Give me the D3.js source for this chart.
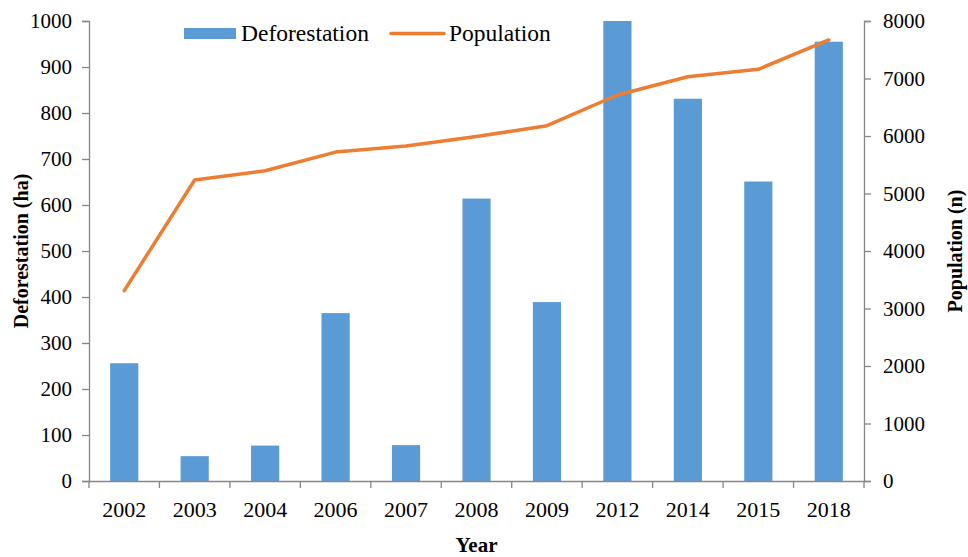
<!DOCTYPE html>
<html>
<head>
<meta charset="utf-8">
<script src="https://cdn.jsdelivr.net/npm/d3@7"></script>
<style>
  body { margin: 0; background: #fff; }
</style>
</head>
<body>
<svg id="chart"></svg>
<script>
// values
const years = ["2002", "2003", "2004", "2006", "2007", "2008", "2009", "2012", "2014", "2015", "2018"];
const deforestation = [256, 54, 77, 365, 78, 614, 389, 1000, 831, 651, 955];
const population = [3310, 5235, 5395, 5720, 5826, 5990, 6180, 6713, 7030, 7160, 7670];
const leftTicks = [0, 100, 200, 300, 400, 500, 600, 700, 800, 900, 1000];
const rightTicks = [0, 1000, 2000, 3000, 4000, 5000, 6000, 7000, 8000];

const width = 968, height = 557;
const margin = { top: 21, right: 104, bottom: 76, left: 89 };
const innerW = width - margin.left - margin.right;
const innerH = height - margin.top - margin.bottom;
const serif = "Liberation Serif";

const svg = d3.select("#chart")
    .attr("width", width).attr("height", height)
    .attr("font-family", serif);
const g = svg.append("g").attr("transform", `translate(${margin.left},${margin.top})`);

const x = d3.scaleBand().domain(years).range([0, innerW]).paddingInner(0.6).paddingOuter(0.3);
const xPoint = d3.scaleBand().domain(years).range([0, innerW]);
const yLeft = d3.scaleLinear().domain([0, 1000]).range([innerH, 0]);
const yRight = d3.scaleLinear().domain([0, 8000]).range([innerH, 0]);

const axisColor = "#868686";

// bars
g.selectAll("rect.bar")
    .data(years)
    .join("rect")
    .attr("class", "bar")
    .attr("x", d => x(d))
    .attr("width", x.bandwidth())
    .attr("y", (d, i) => yLeft(deforestation[i]))
    .attr("height", (d, i) => innerH - yLeft(deforestation[i]))
    .attr("fill", "#5B9BD5");

// line
const line = d3.line()
    .x((d, i) => xPoint(years[i]) + xPoint.bandwidth() / 2)
    .y(d => yRight(d));

g.append("path")
    .datum(population)
    .attr("d", line)
    .attr("fill", "none")
    .attr("stroke", "#ED7D31")
    .attr("stroke-width", 3.5)
    .attr("stroke-linejoin", "round")
    .attr("stroke-linecap", "round");

// axes
const styleAxis = (sel, size) => {
    sel.attr("font-family", serif).attr("font-size", size);
    sel.select(".domain").attr("stroke", axisColor).attr("stroke-width", 1.3);
    sel.selectAll(".tick line").attr("stroke", axisColor).attr("stroke-width", 1.3);
    sel.selectAll("text")
        .attr("font-family", serif)
        .attr("fill", "#000");
};

const xAxis = g.append("g")
    .attr("transform", `translate(0,${innerH})`)
    .call(d3.axisBottom(xPoint).tickSize(0).tickPadding(20));
styleAxis(xAxis, 22);

// category boundary ticks
const bounds = years.map(d => xPoint(d)).concat([innerW]);
xAxis.selectAll("line.bound")
    .data(bounds)
    .join("line")
    .attr("class", "bound")
    .attr("x1", d => d).attr("x2", d => d)
    .attr("y1", 0).attr("y2", 7)
    .attr("stroke", axisColor)
    .attr("stroke-width", 1.3);

const yAxisL = g.append("g")
    .call(d3.axisLeft(yLeft).tickValues(leftTicks).tickFormat(d3.format("d"))
        .tickSize(7).tickSizeOuter(7).tickPadding(10));
styleAxis(yAxisL, 21);

const yAxisR = g.append("g")
    .attr("transform", `translate(${innerW},0)`)
    .call(d3.axisRight(yRight).tickValues(rightTicks).tickFormat(d3.format("d"))
        .tickSize(7).tickSizeOuter(7).tickPadding(12));
styleAxis(yAxisR, 21);

// axis titles
svg.append("text")
    .attr("x", margin.left + innerW / 2)
    .attr("y", 552)
    .attr("text-anchor", "middle")
    .attr("font-weight", "bold")
    .attr("font-size", 21)
    .text("Year");

svg.append("text")
    .attr("transform", `translate(28,${margin.top + innerH / 2}) rotate(-90)`)
    .attr("text-anchor", "middle")
    .attr("font-weight", "bold")
    .attr("font-size", 20)
    .text("Deforestation (ha)");

svg.append("text")
    .attr("transform", `translate(962,${margin.top + innerH / 2}) rotate(-90)`)
    .attr("text-anchor", "middle")
    .attr("font-weight", "bold")
    .attr("font-size", 20)
    .text("Population (n)");

// legend
const legend = svg.append("g");
legend.append("rect")
    .attr("x", 184).attr("y", 28)
    .attr("width", 52).attr("height", 11)
    .attr("fill", "#5B9BD5");
legend.append("text")
    .attr("x", 241).attr("y", 41)
    .attr("font-size", 23.5)
    .text("Deforestation");
legend.append("line")
    .attr("x1", 391).attr("x2", 444)
    .attr("y1", 33.5).attr("y2", 33.5)
    .attr("stroke", "#ED7D31")
    .attr("stroke-width", 3.5)
    .attr("stroke-linecap", "round");
legend.append("text")
    .attr("x", 449).attr("y", 41)
    .attr("font-size", 23.5)
    .text("Population");
</script>
</body>
</html>
